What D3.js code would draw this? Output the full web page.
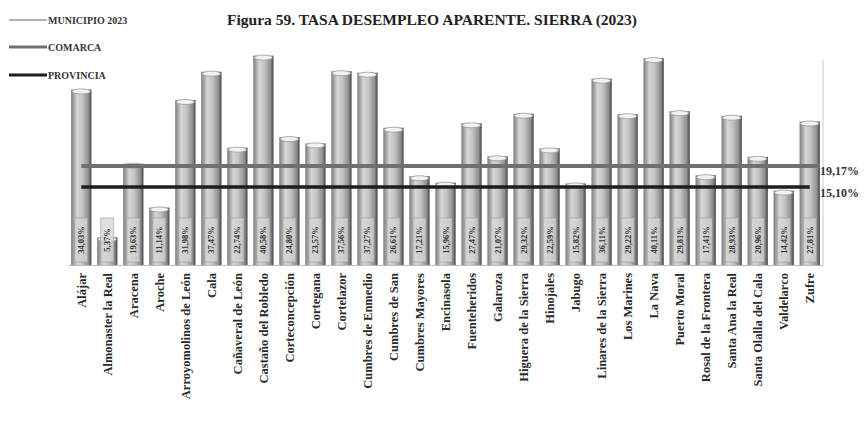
<!DOCTYPE html>
<html>
<head>
<meta charset="utf-8">
<script src="https://cdn.jsdelivr.net/npm/d3@7"></script>
<style>
  html, body { margin: 0; padding: 0; background: #fff; }
  svg { display: block; }
</style>
</head>
<body>
<svg id="chart" width="867" height="422"></svg>
<script>
// Municipios de la comarca Sierra
const municipios = [
  "Alájar", "Almonaster la Real", "Aracena", "Aroche", "Arroyomolinos de León",
  "Cala", "Cañaveral de León", "Castaño del Robledo", "Corteconcepción", "Cortegana",
  "Cortelazor", "Cumbres de Enmedio", "Cumbres de San", "Cumbres Mayores", "Encinasola",
  "Fuenteheridos", "Galaroza", "Higuera de la Sierra", "Hinojales", "Jabugo",
  "Linares de la Sierra", "Los Marines", "La Nava", "Puerto Moral", "Rosal de la Frontera",
  "Santa Ana la Real", "Santa Olalla del Cala", "Valdelarco", "Zufre"
];
// Tasa de desempleo aparente por municipio (%)
const tasaMunicipio = [
  34.03, 5.37, 19.63, 11.14, 31.98,
  37.47, 22.74, 40.58, 24.80, 23.57,
  37.56, 37.27, 26.61, 17.21, 15.96,
  27.47, 21.07, 29.32, 22.59, 15.82,
  36.11, 29.22, 40.11, 29.81, 17.41,
  28.93, 20.96, 14.42, 27.81
];
// Referencias comarcal y provincial (%)
const tasaComarca = 19.17;
const tasaProvincia = 15.10;
const leyenda = ["MUNICIPIO 2023", "COMARCA", "PROVINCIA"];

const fmt = v => d3.format(".2f")(v).replace(".", ",") + "%";
const serif = "'Liberation Serif', 'DejaVu Serif', serif";

const svg = d3.select("#chart");
const defs = svg.append("defs");

// Cylinder shading for the bars
const grad = defs.append("linearGradient").attr("id", "cyl")
  .attr("x1", "0%").attr("x2", "100%").attr("y1", "0%").attr("y2", "0%");
[[0, "#7c7c7c"], [0.3, "#d6d6d6"], [0.55, "#c4c4c4"], [0.85, "#8e8e8e"], [1, "#444"]]
  .forEach(([o, c]) => grad.append("stop").attr("offset", o).attr("stop-color", c));

const plot = { left: 68, right: 823, top: 40, bottom: 265 };

const x = d3.scaleBand()
  .domain(municipios)
  .range([plot.left, plot.right])
  .paddingInner(0.22)
  .paddingOuter(0.12);

const y = d3.scaleLinear()
  .domain([0, 43.6])
  .range([plot.bottom, plot.bottom - 43.6 * 5.16]);

// Title
svg.append("text")
  .attr("x", 432).attr("y", 25)
  .attr("text-anchor", "middle")
  .attr("font-family", serif)
  .attr("font-weight", "bold")
  .attr("font-size", 15.5)
  .attr("fill", "#222")
  .text("Figura 59. TASA DESEMPLEO APARENTE. SIERRA (2023)");

// Light frame line on the right side of the plot
svg.append("line")
  .attr("x1", plot.right).attr("x2", plot.right)
  .attr("y1", 60).attr("y2", plot.bottom)
  .attr("stroke", "#c8c8c8").attr("stroke-width", 1);

// Bars
const bars = svg.append("g").selectAll("g")
  .data(municipios.map((m, i) => ({ m, v: tasaMunicipio[i] })))
  .join("g");

bars.append("rect")
  .attr("x", d => x(d.m))
  .attr("y", d => y(d.v))
  .attr("width", x.bandwidth())
  .attr("height", d => y(0) - y(d.v))
  .attr("fill", "url(#cyl)");

bars.append("ellipse")
  .attr("cx", d => x(d.m) + x.bandwidth() / 2)
  .attr("cy", d => y(d.v) + 2)
  .attr("rx", x.bandwidth() / 2 - 1)
  .attr("ry", 2.5)
  .attr("fill", "#f2f2f2")
  .attr("stroke", "#9a9a9a")
  .attr("stroke-width", 0.8);

// Reference lines
const lineX = d3.scaleLinear()
  .domain([0, municipios.length - 1])
  .range([x(municipios[0]) + x.bandwidth() / 2, x(municipios[municipios.length - 1]) + x.bandwidth() / 2]);

svg.append("line")
  .attr("x1", lineX(0)).attr("x2", lineX(municipios.length - 1) + 10)
  .attr("y1", y(tasaComarca)).attr("y2", y(tasaComarca))
  .attr("stroke", "#707070").attr("stroke-width", 4);

svg.append("line")
  .attr("x1", lineX(0)).attr("x2", lineX(municipios.length - 1))
  .attr("y1", y(tasaProvincia)).attr("y2", y(tasaProvincia))
  .attr("stroke", "#1e1e1e").attr("stroke-width", 3.5);

svg.append("text")
  .attr("x", plot.right - 3).attr("y", y(tasaComarca) + 9)
  .attr("font-family", serif).attr("font-weight", "bold")
  .attr("font-size", 12).attr("fill", "#333")
  .text(fmt(tasaComarca));

svg.append("text")
  .attr("x", plot.right - 3).attr("y", y(tasaProvincia) + 10)
  .attr("font-family", serif).attr("font-weight", "bold")
  .attr("font-size", 12).attr("fill", "#333")
  .text(fmt(tasaProvincia));

// Value labels inside the bars
const vl = bars.append("g")
  .attr("transform", d => `translate(${x(d.m) + x.bandwidth() / 2},${plot.bottom - 3}) rotate(-90)`);

vl.append("rect")
  .attr("x", 0).attr("y", -6.5)
  .attr("width", 44).attr("height", 13)
  .attr("fill", "#d4d4d4").attr("fill-opacity", 0.75)
  .attr("stroke", "#9a9a9a").attr("stroke-width", 0.6);

vl.append("text")
  .attr("x", 22).attr("y", 3)
  .attr("text-anchor", "middle")
  .attr("font-family", serif).attr("font-weight", "bold")
  .attr("font-size", 8.5).attr("fill", "#333")
  .text(d => fmt(d.v));

// Category axis
const xAxis = svg.append("g")
  .attr("transform", `translate(0,${plot.bottom})`)
  .call(d3.axisBottom(x).tickSize(0).tickPadding(0));
xAxis.select(".domain").attr("stroke", "#bbb");
xAxis.selectAll("text")
  .attr("font-family", serif).attr("font-weight", "bold")
  .attr("font-size", 12.5).attr("fill", "#2a2a2a")
  .attr("text-anchor", "end")
  .attr("dy", "0.35em")
  .attr("transform", "translate(0,8) rotate(-90)");

// Legend
const lg = svg.append("g").selectAll("g")
  .data(leyenda)
  .join("g")
  .attr("transform", (d, i) => `translate(0,${[20, 47, 75][i]})`);

lg.append("line")
  .attr("x1", 9).attr("x2", 47)
  .attr("stroke", (d, i) => ["#b0b0b0", "#707070", "#1e1e1e"][i])
  .attr("stroke-width", (d, i) => [2, 3, 3][i]);

lg.append("text")
  .attr("x", 48).attr("y", 3.5)
  .attr("font-family", serif).attr("font-weight", "bold")
  .attr("font-size", 10).attr("fill", "#333")
  .text(d => d);
</script>
</body>
</html>
